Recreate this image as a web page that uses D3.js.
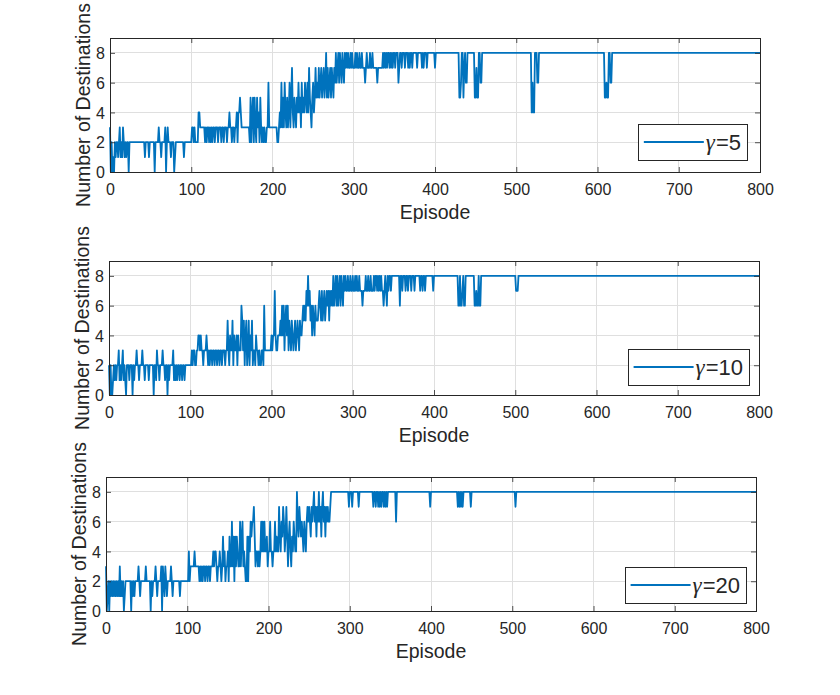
<!DOCTYPE html>
<html>
<head>
<meta charset="utf-8">
<script src="https://cdn.jsdelivr.net/npm/d3@7.9.0/dist/d3.min.js"></script>
<style>
  body { margin: 0; background: #fff; }
  svg { display: block; }
  text { font-family: Arial, "Liberation Sans", sans-serif; fill: #262626; }
</style>
</head>
<body>
<svg id="chart" width="840" height="695"></svg>
<script>
// tick values
const xTicks = [0, 100, 200, 300, 400, 500, 600, 700, 800];
const yTicks = [0, 2, 4, 6, 8];
const gammas = [5, 10, 20];

// series: [episode, value], value holds until next entry
const gamma5 = [[0,3],[1,0],[2,2],[3,0],[4,1],[5,0],[6,2],[7,1],[8,2],[10,1],[11,2],[12,3],[13,1],[14,2],[15,1],[16,3],[17,2],[18,1],[19,2],[20,1],[21,2],[23,0],[24,2],[43,1],[44,2],[48,1],[49,2],[55,0],[56,2],[60,3],[61,2],[63,1],[64,2],[68,3],[69,0],[70,2],[71,3],[72,2],[75,1],[76,2],[79,0],[80,1],[81,2],[91,1],[92,2],[101,3],[103,2],[104,3],[105,2],[109,4],[111,3],[117,2],[118,3],[119,2],[120,3],[122,2],[123,3],[124,2],[125,3],[126,2],[127,3],[129,2],[130,3],[133,2],[134,3],[137,2],[138,3],[140,2],[141,3],[144,2],[145,3],[147,4],[148,3],[150,2],[151,3],[153,2],[154,3],[156,4],[157,2],[158,4],[160,5],[161,4],[162,3],[172,2],[173,5],[174,2],[175,4],[176,5],[177,2],[178,5],[179,3],[180,2],[181,5],[182,3],[183,4],[184,2],[185,5],[186,3],[187,2],[188,3],[189,2],[190,3],[191,2],[193,3],[195,6],[196,3],[206,2],[208,3],[209,4],[210,3],[211,6],[212,3],[213,5],[214,3],[215,6],[216,4],[217,3],[218,5],[219,3],[220,4],[221,6],[222,3],[223,5],[224,7],[225,4],[226,3],[227,5],[228,4],[229,3],[230,5],[231,4],[232,6],[233,4],[234,5],[235,3],[236,6],[237,4],[238,5],[239,4],[240,6],[241,5],[242,4],[243,6],[244,4],[245,7],[246,5],[247,4],[248,3],[249,5],[250,6],[251,4],[252,5],[253,7],[254,5],[255,6],[256,5],[257,7],[258,5],[259,6],[260,7],[261,5],[262,6],[263,7],[264,5],[265,6],[266,8],[267,5],[268,7],[269,5],[270,6],[271,7],[272,5],[273,7],[274,6],[275,5],[276,7],[277,6],[278,8],[279,6],[280,7],[281,8],[282,6],[283,8],[284,7],[285,6],[286,8],[287,7],[288,6],[289,8],[290,7],[291,8],[292,7],[293,8],[294,7],[296,8],[297,7],[298,8],[299,7],[302,8],[303,7],[304,8],[305,7],[307,8],[308,7],[310,8],[311,7],[314,6],[315,7],[316,8],[317,7],[320,8],[321,7],[323,8],[324,7],[329,6],[330,7],[336,8],[337,7],[338,8],[339,7],[340,8],[341,7],[342,8],[344,7],[345,8],[346,7],[347,8],[348,7],[349,8],[351,7],[352,8],[355,6],[356,7],[357,8],[359,7],[360,8],[363,7],[364,8],[367,7],[368,8],[369,7],[370,8],[372,7],[373,8],[378,7],[379,8],[384,7],[385,8],[386,7],[387,8],[390,7],[391,8],[400,7],[401,8],[430,5],[432,6],[433,8],[435,5],[436,7],[437,8],[438,6],[440,8],[449,5],[451,7],[452,5],[454,8],[456,6],[458,8],[519,4],[520,6],[521,4],[523,8],[526,6],[528,8],[609,5],[611,6],[612,5],[614,8],[616,6],[618,8],[800,8]];

const gamma10 = [[0,2],[1,0],[2,2],[3,0],[5,1],[6,2],[7,1],[8,2],[9,1],[10,2],[12,3],[13,1],[14,2],[15,1],[16,2],[17,3],[18,1],[19,2],[20,1],[21,0],[22,2],[25,1],[26,2],[29,0],[30,2],[31,1],[32,2],[34,3],[35,2],[37,1],[38,2],[41,3],[42,2],[44,1],[45,2],[49,1],[50,2],[55,0],[56,2],[58,1],[59,3],[60,2],[62,1],[63,2],[66,3],[67,2],[69,1],[70,2],[72,0],[73,2],[74,1],[75,2],[79,3],[80,1],[81,2],[82,1],[83,2],[84,1],[85,2],[87,1],[88,2],[90,1],[91,2],[93,1],[94,2],[102,3],[103,2],[104,3],[106,2],[108,3],[110,4],[112,3],[113,4],[114,3],[116,2],[117,3],[120,4],[121,3],[122,2],[123,3],[124,2],[125,3],[127,2],[128,3],[130,2],[131,3],[133,2],[134,3],[136,2],[137,3],[139,2],[140,3],[143,2],[144,3],[146,5],[147,3],[148,2],[149,4],[150,3],[152,5],[153,2],[154,4],[155,3],[157,4],[158,2],[159,4],[160,3],[163,6],[164,5],[165,3],[166,5],[167,2],[168,4],[169,5],[170,2],[171,3],[172,5],[173,2],[174,4],[175,3],[176,5],[177,2],[178,3],[180,2],[181,4],[182,3],[184,2],[185,3],[186,2],[188,3],[190,2],[191,6],[192,3],[200,4],[201,3],[202,4],[204,7],[205,4],[206,3],[208,4],[211,5],[212,4],[213,6],[214,4],[215,6],[216,3],[217,5],[218,6],[219,4],[220,6],[221,3],[222,5],[223,4],[224,3],[225,5],[226,4],[227,3],[228,4],[229,5],[230,3],[231,4],[232,5],[233,4],[234,3],[235,5],[236,4],[238,5],[239,6],[240,5],[241,6],[242,5],[243,7],[244,6],[245,8],[246,6],[247,7],[248,5],[249,6],[250,4],[251,6],[252,5],[253,4],[254,6],[255,5],[258,6],[259,7],[260,6],[261,5],[262,7],[263,5],[264,6],[265,7],[266,5],[267,6],[268,7],[269,6],[270,7],[271,5],[272,7],[273,6],[274,7],[275,6],[276,8],[277,6],[278,7],[279,8],[280,6],[281,8],[282,6],[283,7],[284,8],[285,6],[286,8],[287,7],[288,6],[289,8],[290,7],[291,8],[292,7],[294,8],[295,7],[297,8],[298,7],[300,8],[301,7],[303,8],[304,7],[305,8],[306,7],[308,8],[309,7],[312,6],[313,7],[316,8],[317,7],[319,8],[320,7],[322,8],[323,7],[326,8],[327,7],[328,8],[330,7],[331,8],[332,7],[333,8],[334,7],[335,8],[336,7],[338,6],[339,7],[340,8],[341,7],[342,6],[343,8],[344,7],[345,8],[347,7],[348,8],[358,6],[359,8],[361,7],[362,8],[365,7],[366,8],[368,7],[369,8],[372,7],[373,8],[376,7],[377,8],[383,7],[384,8],[386,7],[387,8],[389,7],[390,8],[399,7],[400,8],[430,6],[432,8],[433,6],[435,7],[436,8],[437,6],[439,8],[450,6],[452,7],[453,6],[455,8],[456,6],[458,8],[501,7],[504,8],[800,8]];

const gamma20 = [[0,3],[1,0],[2,1],[3,2],[4,0],[5,2],[6,1],[7,2],[8,1],[9,2],[10,1],[11,2],[12,1],[13,2],[14,1],[15,2],[16,1],[17,3],[18,1],[19,2],[20,1],[21,2],[22,0],[23,1],[24,2],[31,0],[32,2],[33,1],[34,2],[35,1],[36,2],[40,3],[41,2],[42,1],[43,2],[49,3],[50,2],[55,0],[56,2],[57,1],[58,2],[61,3],[62,2],[63,1],[64,2],[68,3],[69,0],[70,3],[71,2],[72,1],[73,3],[74,2],[75,1],[76,2],[80,3],[81,2],[82,1],[83,2],[91,1],[92,2],[102,4],[103,2],[104,3],[109,4],[110,3],[115,2],[116,3],[117,2],[118,3],[119,2],[120,3],[122,2],[123,3],[125,2],[126,3],[128,2],[129,3],[132,4],[133,3],[134,4],[136,3],[137,2],[138,3],[140,4],[141,3],[142,2],[143,3],[144,5],[145,3],[146,4],[147,2],[148,3],[150,4],[151,2],[152,5],[153,3],[155,6],[156,3],[157,5],[158,2],[159,5],[160,3],[161,5],[162,4],[163,3],[165,6],[166,3],[167,5],[168,6],[169,3],[170,4],[171,3],[172,2],[174,5],[175,2],[176,5],[177,4],[178,6],[179,5],[180,6],[182,7],[183,5],[184,3],[185,4],[187,3],[188,4],[189,3],[190,4],[191,6],[192,4],[193,6],[194,4],[195,6],[196,4],[198,5],[199,3],[200,4],[202,6],[203,4],[205,3],[206,4],[208,6],[209,4],[210,5],[211,4],[213,7],[214,5],[215,4],[216,6],[217,5],[218,7],[219,6],[220,4],[221,5],[222,7],[223,5],[224,3],[225,5],[226,6],[227,4],[228,3],[229,5],[230,4],[231,6],[232,5],[233,4],[235,8],[236,6],[237,5],[238,7],[239,6],[240,5],[241,6],[242,5],[243,4],[244,6],[245,5],[246,4],[247,6],[248,7],[249,6],[250,7],[251,6],[252,5],[253,7],[254,6],[255,7],[256,8],[257,6],[258,7],[259,5],[260,7],[261,6],[262,8],[263,6],[264,7],[265,5],[266,7],[267,8],[268,6],[269,7],[270,5],[271,7],[272,6],[273,7],[274,6],[276,7],[277,8],[299,7],[300,8],[303,7],[304,8],[311,7],[312,8],[329,7],[330,8],[332,7],[333,8],[335,7],[336,8],[337,7],[338,8],[339,7],[340,8],[342,7],[343,8],[344,7],[345,8],[346,7],[347,8],[357,6],[358,8],[399,7],[400,8],[433,7],[434,8],[435,7],[436,8],[437,7],[438,8],[439,7],[440,8],[449,7],[450,8],[504,7],[505,8],[800,8]];

const series = [gamma5, gamma10, gamma20];

// panel layout (pixels)
const panels = [
  { left: 110, top: 38,  legendDx: 13, legendDy: 12 },
  { left: 109, top: 261, legendDx: 10, legendDy: 10 },
  { left: 106, top: 477, legendDx: 10, legendDy: 8 }
];
const plotW = 650, plotH = 134;
const lineColor = '#0072BD', axisColor = '#262626', gridColor = '#DFDFDF';

// the value of a run holds until the episode before the next change,
// so emit that last held episode too and draw straight segments like plot()
function toVertices(runs) {
  const pts = [];
  runs.forEach(([e, v], k) => {
    if (k > 0) {
      const [pe, pv] = runs[k - 1];
      if (e - 1 > pe) pts.push([e - 1, pv]);
    }
    pts.push([e, v]);
  });
  return pts;
}

const svg = d3.select('#chart');

panels.forEach((p, i) => {
  const x = d3.scaleLinear().domain([0, 800]).range([0, plotW]);
  const y = d3.scaleLinear().domain([0, 9]).range([plotH, 0]);
  const g = svg.append('g').attr('transform', `translate(${p.left},${p.top})`);

  // grid
  g.append('g').selectAll('line').data(xTicks.slice(1, -1)).join('line')
    .attr('x1', d => x(d)).attr('x2', d => x(d)).attr('y1', 0).attr('y2', plotH)
    .attr('stroke', gridColor).attr('stroke-width', 1).attr('shape-rendering', 'crispEdges');
  g.append('g').selectAll('line').data(yTicks.slice(1)).join('line')
    .attr('x1', 0).attr('x2', plotW).attr('y1', d => y(d)).attr('y2', d => y(d))
    .attr('stroke', gridColor).attr('stroke-width', 1).attr('shape-rendering', 'crispEdges');

  // data line
  const line = d3.line().x(d => x(d[0])).y(d => y(d[1]));
  g.append('path').datum(toVertices(series[i])).attr('d', line)
    .attr('fill', 'none').attr('stroke', lineColor).attr('stroke-width', 1.8)
    .attr('stroke-linejoin', 'round');

  // axes (ticks pointing inwards, box on)
  const tk = 5;
  const xb = d3.axisBottom(x).tickValues(xTicks).tickSizeInner(-tk).tickSizeOuter(0).tickPadding(10);
  const xt = d3.axisTop(x).tickValues(xTicks).tickSizeInner(-tk).tickSizeOuter(0).tickFormat('');
  const yl = d3.axisLeft(y).tickValues(yTicks).tickSizeInner(-tk).tickSizeOuter(0).tickPadding(10);
  const yr = d3.axisRight(y).tickValues(yTicks).tickSizeInner(-tk).tickSizeOuter(0).tickFormat('');

  const gx = g.append('g').attr('transform', `translate(0,${plotH})`).call(xb);
  g.append('g').call(xt);
  const gy = g.append('g').call(yl);
  g.append('g').attr('transform', `translate(${plotW},0)`).call(yr);

  g.selectAll('.domain').remove();
  g.selectAll('.tick line').attr('stroke', axisColor).attr('stroke-width', 0.8);
  g.selectAll('.tick text').attr('fill', axisColor).style('font-size', '16px')
    .style('font-family', 'Arial, "Liberation Sans", sans-serif');
  gx.selectAll('.tick text').attr('y', 22.5).attr('dy', null);
  gy.selectAll('.tick text').attr('x', -5).attr('dy', '0.36em');

  g.append('rect').attr('x', 0).attr('y', 0).attr('width', plotW).attr('height', plotH)
    .attr('fill', 'none').attr('stroke', axisColor).attr('stroke-width', 1)
    .attr('shape-rendering', 'crispEdges');

  // labels
  g.append('text').attr('x', plotW / 2).attr('y', plotH + 47)
    .attr('text-anchor', 'middle').style('font-size', '19.5px').text('Episode');
  g.append('text')
    .attr('transform', `translate(-20,${plotH / 2}) rotate(-90)`)
    .attr('text-anchor', 'middle').style('font-size', '19.5px').text('Number of Destinations');

  // legend
  const boxR = plotW - p.legendDx, boxB = plotH - p.legendDy, boxH = 36;
  const lg = g.append('g');
  const rect = lg.append('rect');
  const txt = lg.append('text').attr('x', boxR - 6).attr('y', boxB - boxH / 2 + 8)
    .attr('text-anchor', 'end').style('font-size', '22px').attr('fill', '#000');
  txt.append('tspan').style('font-family', '"Liberation Serif", "Times New Roman", serif')
    .style('font-style', 'italic').style('font-size', '23px').text('γ');
  txt.append('tspan').attr('dx', 1).text('=' + gammas[i]);
  const tb = txt.node().getBBox();
  const lineEnd = tb.x - 2, lineStart = lineEnd - 60, boxL = lineStart - 5;
  lg.append('line').attr('x1', lineStart).attr('x2', lineEnd)
    .attr('y1', boxB - boxH / 2).attr('y2', boxB - boxH / 2)
    .attr('stroke', lineColor).attr('stroke-width', 2);
  rect.attr('x', boxL).attr('y', boxB - boxH).attr('width', boxR - boxL).attr('height', boxH)
    .attr('fill', '#fff').attr('stroke', axisColor).attr('stroke-width', 1)
    .attr('shape-rendering', 'crispEdges');
});
</script>
</body>
</html>
